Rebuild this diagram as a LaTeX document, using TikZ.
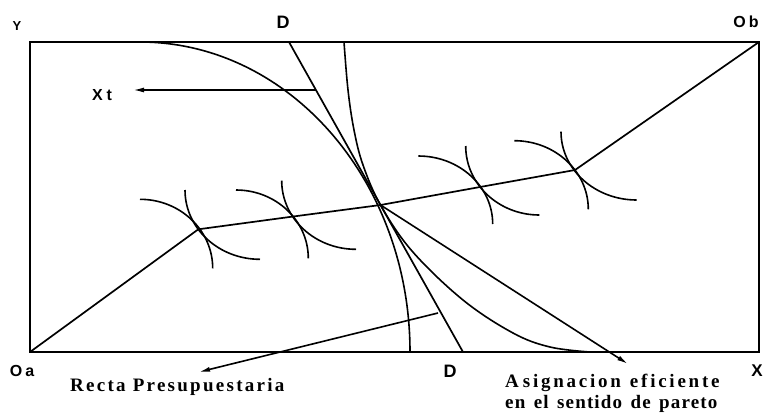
\documentclass[tikz,border=0pt]{standalone}
\usepackage{fontspec}
\setmainfont{Liberation Serif}
\setsansfont{Liberation Sans}
\newfontfamily\spacedserif[LetterSpace=12]{Liberation Serif}
\newfontfamily\spacedwide[LetterSpace=14.5]{Liberation Serif}
\newfontfamily\spacednarrow[LetterSpace=6]{Liberation Serif}
\usetikzlibrary{arrows.meta}
\begin{document}
\begin{tikzpicture}[x=1pt,y=-1pt,
  ln/.style={line width=1.7pt},
  curve/.style={line width=1.6pt},
  arr/.style={line width=1.6pt, -{Latex[length=11pt,width=5pt]}},
  lab/.style={inner sep=0pt},
  txt/.style={inner sep=0pt, anchor=base west, font=\spacedserif\bfseries\fontsize{19}{21}\selectfont}]
\useasboundingbox (0,0) rectangle (765,413);
% frame
\coordinate (Oa) at (30,352);
\coordinate (Ob) at (759,42);
\draw[ln] (Oa) rectangle (Ob);
% budget / price line D-D
\coordinate (Dt) at (289,42);
\coordinate (Db) at (463,352);
\coordinate (T) at (380.5,205);
\draw[ln] (Dt) -- (Db);
% big curves through T
\draw[curve] (140,42) .. controls (289,42) and (410,180.9) .. (410,352);
\draw[curve] plot[smooth, tension=0.6] coordinates {(344,42) (348,90) (354,130) (363,165) (380.5,205) (412,251) (463,300) (513,333) (550,347) (590,352)};
% contract curve
\coordinate (P1) at (198.3,229.3);
\coordinate (P2) at (291.7,216.7);
\coordinate (P3) at (481.7,186.7);
\coordinate (P4) at (575,170);
\draw[ln] (Oa) -- (P1) -- (P2) -- (T) -- (P3) -- (P4) -- (Ob);
% indifference curves
\draw[curve] (185,190) .. controls (185,228.3) and (218.6,259.3) .. (260,259.3);
\draw[curve] (140,199.3) .. controls (180.1,199.3) and (212.7,230.2) .. (212.7,268.3);
\draw[curve] (281.7,180.7) .. controls (281.7,218.6) and (315,249.3) .. (356,249.3);
\draw[curve] (236,190) .. controls (275.9,190) and (308.3,220.6) .. (308.3,258.3);
\draw[curve] (465.7,146) .. controls (465.7,184.1) and (498.7,215) .. (539.3,215);
\draw[curve] (418.3,156) .. controls (459.4,156) and (492.7,186.5) .. (492.7,224);
\draw[curve] (561,131.7) .. controls (561,169.4) and (594.9,200) .. (636.7,200);
\draw[curve] (514.3,140.7) .. controls (555.1,140.7) and (588.3,171.4) .. (588.3,209.3);
% arrows
\coordinate (Xs) at (316,90);
\coordinate (Xtip) at (133,90);
\draw[arr] (Xs) -- (Xtip);
\coordinate (Rs) at (438,313);
\coordinate (Rtip) at (199,372);
\draw[arr] (Rs) -- (Rtip);
\coordinate (Atip) at (628,364);
\draw[arr] (T) -- (Atip);
% labels
\node[lab, font=\sffamily\bfseries\fontsize{13}{14}\selectfont] (Y) at (17,26) {Y};
\node[lab, font=\sffamily\bfseries\fontsize{18}{20}\selectfont] (Dtop) at (283,22) {D};
\node[lab, font=\sffamily\bfseries\fontsize{16}{18}\selectfont] (ObL) at (746,22) {O\kern3pt b};
\node[lab, font=\sffamily\bfseries\fontsize{16}{18}\selectfont] (OaL) at (22,371) {O\kern3pt a};
\node[lab, font=\sffamily\bfseries\fontsize{18}{20}\selectfont] (Dbot) at (450,371) {D};
\node[lab, font=\sffamily\bfseries\fontsize{17}{18}\selectfont] (XL) at (757,371) {X};
\node[lab, font=\sffamily\bfseries\fontsize{16}{18}\selectfont] (XtL) at (102,95) {X\kern4pt t};
\node[txt] (RP) at (70,391) {Recta Presupuestaria};
\node[txt, font=\spacedwide\bfseries\fontsize{19}{21}\selectfont] (AE1) at (505,387.5) {A\kern4pt signacion\hspace{9pt}eficiente};
\node[txt, font=\spacednarrow\bfseries\fontsize{19}{21}\selectfont] (AE2) at (505,408) {en\hspace{8.5pt}el\hspace{8.5pt}sentido\hspace{8.5pt}de\hspace{8.5pt}pareto};
\end{tikzpicture}
\end{document}
